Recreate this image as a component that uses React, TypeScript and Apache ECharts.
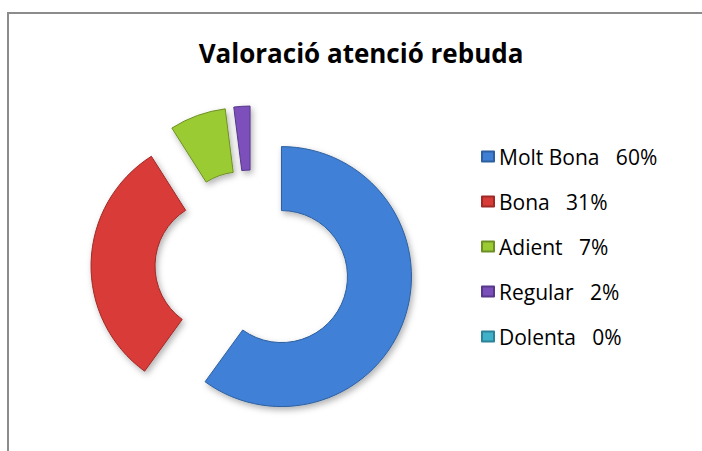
import React, { useEffect, useRef } from "react";
import * as echarts from "echarts";

const titleText = "Valoració atenció rebuda";
const categories = ["Molt Bona", "Bona", "Adient", "Regular", "Dolenta"];
const values = [60, 31, 7, 2, 0];
const colors = ["#3F80D6", "#D83B37", "#9BCB33", "#7B4FBA", "#3FB2CA"];
const borderColors = ["#2E5F9E", "#9E2A28", "#6E8F25", "#573889", "#2C8297"];

export default function App() {
  const ref = useRef<HTMLDivElement>(null);
  useEffect(() => {
    if (!ref.current) return;
    const chart = echarts.init(ref.current, undefined, { renderer: "svg" });
    const total = values.reduce((a, b) => a + b, 0);
    chart.setOption({
      animation: false,
      backgroundColor: "#ffffff",
      title: {
        text: titleText,
        left: 356,
        textAlign: "center",
        top: 35,
        textStyle: {
          fontFamily: "Open Sans",
          fontWeight: "bold",
          fontSize: 26,
          color: "#000000",
        },
      },
      legend: {
        orient: "vertical",
        left: 476,
        top: 141,
        icon: "rect",
        itemWidth: 12,
        itemHeight: 10,
        itemGap: 24,
        selectedMode: false,
        data: categories,
        formatter: (name: string) => {
          const i = categories.indexOf(name);
          return name + "   " + Math.round((values[i] / total) * 100) + "%";
        },
        textStyle: {
          fontFamily: "Open Sans",
          fontSize: 21,
          color: "#000000",
        },
      },
      graphic: [
        {
          type: "rect",
          shape: { x: 8, y: 13, width: 720, height: 460 },
          style: { fill: "none", stroke: "#8c8c8c", lineWidth: 2 },
          silent: true,
        },
      ],
      series: [
        {
          type: "pie",
          center: [252, 267],
          radius: [66, 130],
          startAngle: 90,
          clockwise: true,
          selectedMode: "multiple",
          selectedOffset: 31,
          label: { show: false },
          labelLine: { show: false },
          emphasis: { disabled: true },
          stillShowZeroSum: true,
          data: categories.map((c, i) => ({
            name: c,
            value: values[i],
            selected: true,
            itemStyle: {
              color: colors[i],
              borderColor: borderColors[i],
              borderWidth: 1,
              shadowBlur: 6,
              shadowOffsetX: 2,
              shadowOffsetY: 3,
              shadowColor: "rgba(0,0,0,0.3)",
            },
          })),
        },
      ],
    });
    return () => chart.dispose();
  }, []);
  return (
    <div
      ref={ref}
      style={{ position: "absolute", left: 0, top: 0, width: 702, height: 451 }}
    />
  );
}
